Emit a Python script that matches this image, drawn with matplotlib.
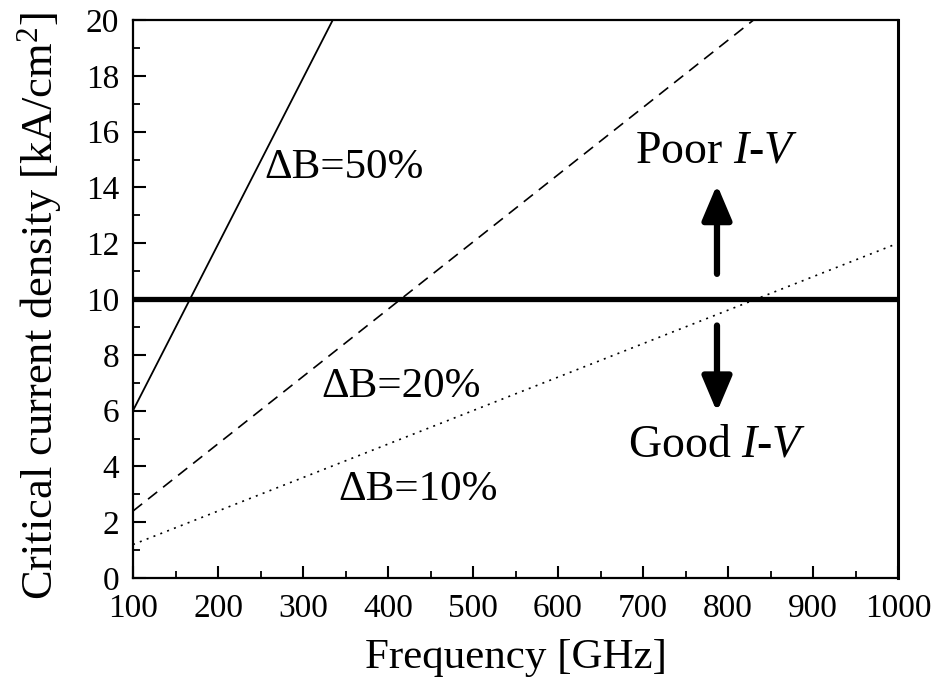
import matplotlib
matplotlib.use("Agg")
import matplotlib.pyplot as plt
from matplotlib.ticker import MultipleLocator

plt.rcParams['font.family'] = ['Liberation Serif', 'DejaVu Serif']
plt.rcParams['mathtext.fontset'] = 'custom'
plt.rcParams['mathtext.rm'] = 'Liberation Serif'
plt.rcParams['mathtext.it'] = 'Liberation Serif:italic'

# Data
freq_50 = [100, 335]
jc_50 = [6.0, 20.0]
freq_20 = [100, 830]
jc_20 = [2.4, 20.0]
freq_10 = [100, 1000]
jc_10 = [1.2, 12.0]
threshold_freq = [100, 1000]
threshold_jc = [10, 10]

xticks = [100, 200, 300, 400, 500, 600, 700, 800, 900, 1000]
yticks = [0, 2, 4, 6, 8, 10, 12, 14, 16, 18, 20]

fig = plt.figure(figsize=(9.38, 6.85), dpi=100)
ax = fig.add_axes([0.1418, 0.1562, 0.8156, 0.8146])

ax.plot(freq_50, jc_50, color='black', lw=1.3, solid_capstyle='butt')
ax.plot(freq_20, jc_20, color='black', lw=1.2, dashes=(7, 4.5))
ax.plot(freq_10, jc_10, color='black', lw=1.2, dashes=(1.2, 3.2))
ax.plot(threshold_freq, threshold_jc, color='black', lw=3.8, solid_capstyle='butt')

ax.set_xlim(100, 1000)
ax.set_ylim(0, 20)
ax.set_xticks(xticks)
ax.set_yticks(yticks)
ax.xaxis.set_minor_locator(MultipleLocator(50))
ax.yaxis.set_minor_locator(MultipleLocator(1))
ax.tick_params(axis='both', which='major', direction='in', length=9, width=1.5,
               labelsize=24, top=False, right=False)
ax.tick_params(axis='both', which='minor', direction='in', length=5, width=1.3,
               top=False, right=False)
ax.tick_params(axis='x', which='major', pad=11)
ax.tick_params(axis='y', which='major', pad=10)
for s in ax.spines.values():
    s.set_linewidth(1.6)
ax.spines['right'].set_linewidth(2.2)

ax.set_xlabel('Frequency [GHz]', fontsize=31)
ax.set_ylabel(r'Critical current density [kA/cm$^2$]', fontsize=32)
ax.xaxis.set_label_coords(0.5, -0.108)
ax.yaxis.set_label_coords(-0.090, 0.487)

ax.text(348, 14.7, 'ΔB=50%', fontsize=31, ha='center', va='center')
ax.text(415, 6.85, 'ΔB=20%', fontsize=31, ha='center', va='center')
ax.text(435, 3.15, 'ΔB=10%', fontsize=31, ha='center', va='center')
ax.text(787, 15.3, r'Poor $I$-$V$', fontsize=33, ha='center', va='center')
ax.text(787, 4.75, r'Good $I$-$V$', fontsize=33, ha='center', va='center')

arrow_kw = dict(arrowstyle='-|>,head_length=0.85,head_width=0.36', lw=4.5, color='black',
                shrinkA=0, shrinkB=0, mutation_scale=25)
ax.annotate('', xy=(787, 14.1), xytext=(787, 10.9), arrowprops=arrow_kw)
ax.annotate('', xy=(787, 5.95), xytext=(787, 9.05), arrowprops=arrow_kw)

fig.savefig('out.png', dpi=100)
